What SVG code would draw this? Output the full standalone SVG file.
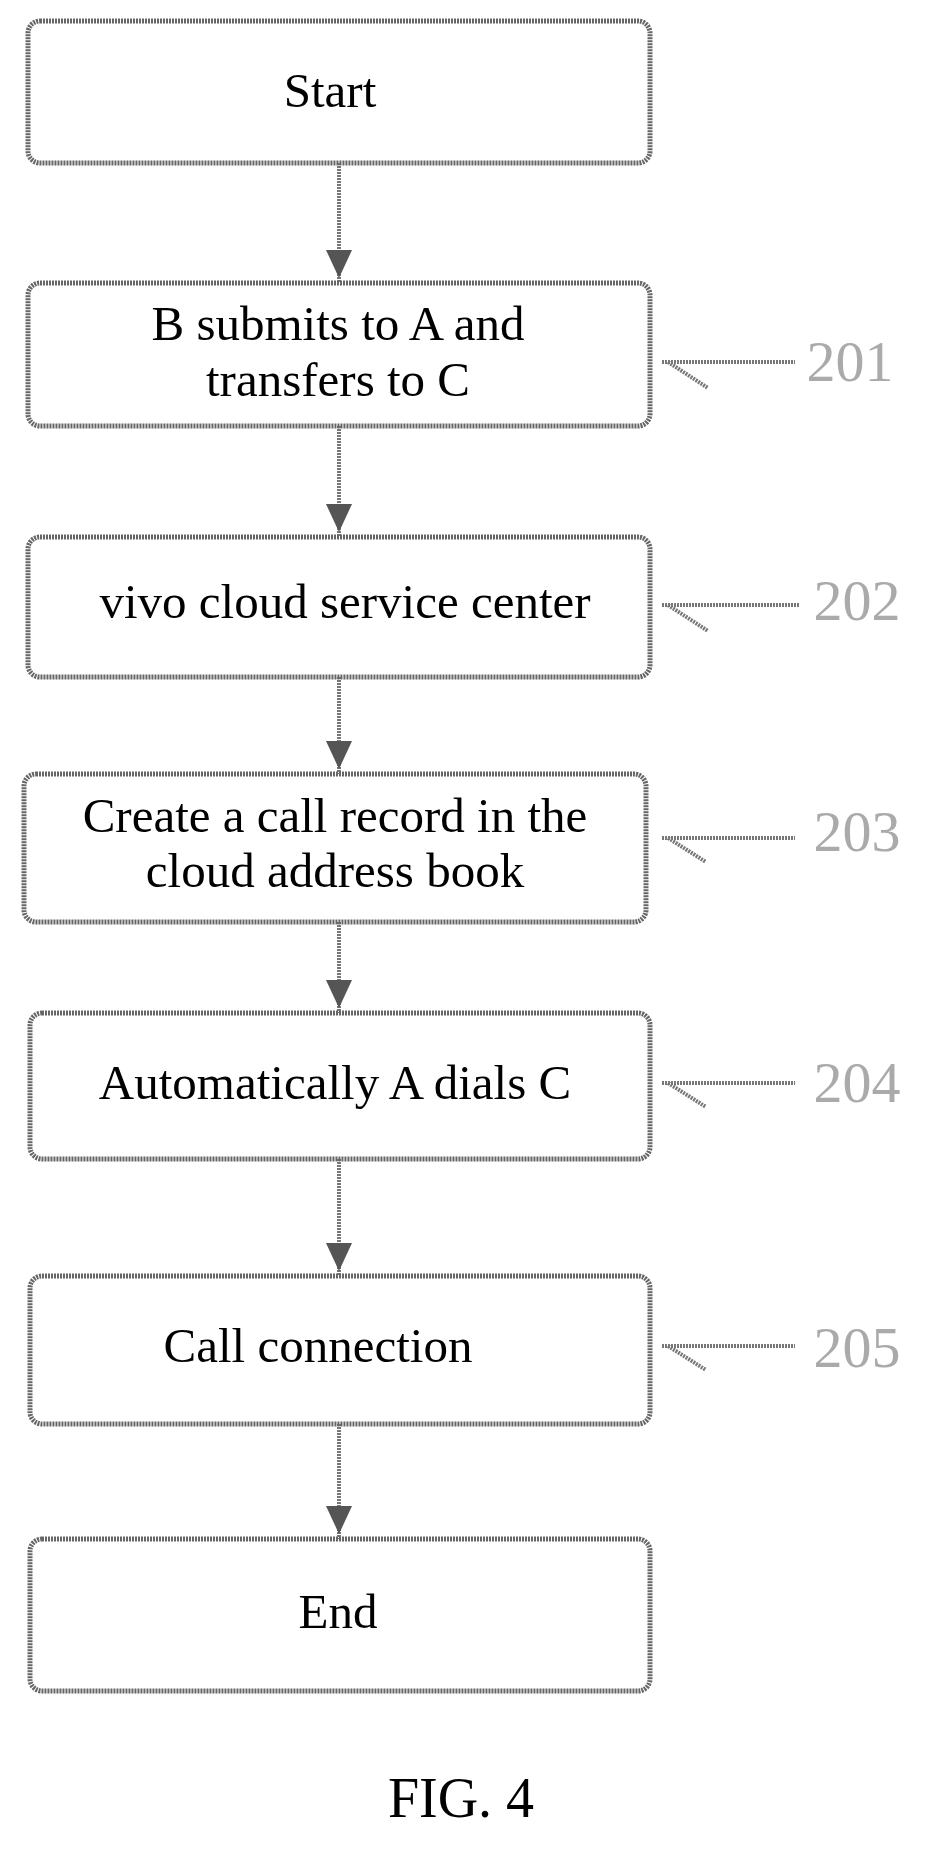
<svg xmlns="http://www.w3.org/2000/svg" width="934" height="1851" viewBox="0 0 934 1851">
<style>
.box{fill:#fff;stroke:#666;stroke-width:5;stroke-dasharray:2 1}
.t{font-family:"Liberation Serif",serif;font-size:49px;fill:#000;text-anchor:middle;dominant-baseline:middle}
.n{font-family:"Liberation Serif",serif;font-size:58px;fill:#aaa;text-anchor:middle;dominant-baseline:middle}
.c{stroke:#777;stroke-width:4;fill:none;stroke-dasharray:2 1}
</style>
<rect width="934" height="1851" fill="#fff"/>
<g id="connectors">
<path class="c" d="M339,163 V283"/><path d="M326,250 L352,250 L339,278 z" fill="#555"/>
<path class="c" d="M339,426 V537"/><path d="M326,504 L352,504 L339,532 z" fill="#555"/>
<path class="c" d="M339,677 V774"/><path d="M326,741 L352,741 L339,769 z" fill="#555"/>
<path class="c" d="M339,922 V1013"/><path d="M326,980 L352,980 L339,1008 z" fill="#555"/>
<path class="c" d="M339,1159 V1276"/><path d="M326,1243 L352,1243 L339,1271 z" fill="#555"/>
<path class="c" d="M339,1424 V1539"/><path d="M326,1506 L352,1506 L339,1534 z" fill="#555"/>
</g>
<g id="start"><rect class="box" x="28" y="21" width="622" height="142" rx="12"/><text class="t" x="330" y="96">Start</text></g>
<g id="n201"><rect class="box" x="28" y="283" width="622" height="143" rx="12"/><text class="t" x="338" y="329">B submits to A and</text><text class="t" x="338" y="385">transfers to C</text></g>
<g id="n202"><rect class="box" x="28" y="537" width="622" height="140" rx="12"/><text class="t" x="345" y="607">vivo cloud service center</text></g>
<g id="n203"><rect class="box" x="24" y="774" width="622" height="148" rx="12"/><text class="t" x="335" y="821">Create a call record in the</text><text class="t" x="335" y="876">cloud address book</text></g>
<g id="n204"><rect class="box" x="30" y="1013" width="620" height="146" rx="12"/><text class="t" x="335" y="1088">Automatically A dials C</text></g>
<g id="n205"><rect class="box" x="30" y="1276" width="620" height="148" rx="12"/><text class="t" x="318" y="1351">Call connection</text></g>
<g id="end"><rect class="box" x="30" y="1539" width="620" height="152" rx="12"/><text class="t" x="338" y="1617">End</text></g>
<g id="labels">
<path class="c" d="M662,362 H795 M668,362 L708,388"/><text class="n" x="850" y="368">201</text>
<path class="c" d="M662,605 H800 M668,605 L708,631"/><text class="n" x="857" y="607">202</text>
<path class="c" d="M662,838 H795 M668,838 L706,862"/><text class="n" x="857" y="838">203</text>
<path class="c" d="M662,1083 H795 M668,1083 L706,1107"/><text class="n" x="857" y="1089">204</text>
<path class="c" d="M662,1346 H795 M668,1346 L706,1370"/><text class="n" x="857" y="1354">205</text>
</g>
<text class="t" x="461" y="1804" style="font-size:56px">FIG. 4</text>
</svg>
